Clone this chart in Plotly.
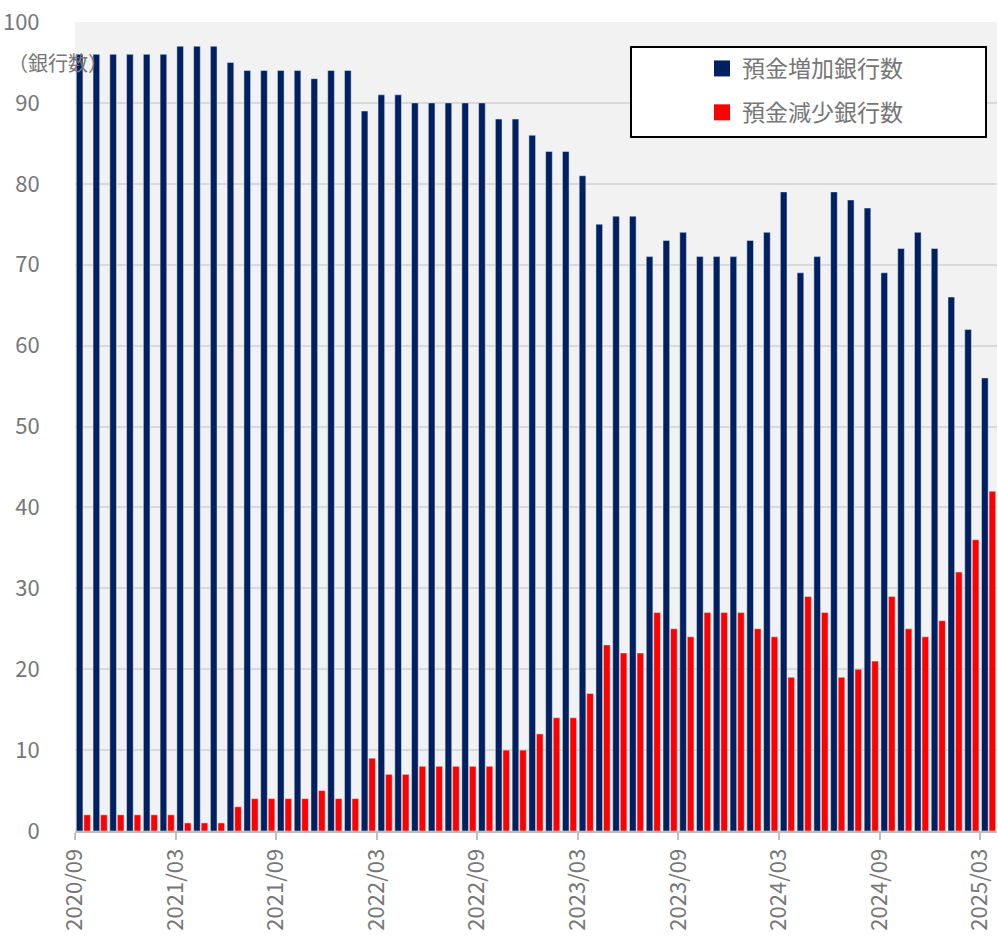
import pandas as pd
import plotly.graph_objects as go

months = [d.strftime("%Y/%m") for d in pd.date_range("2020-09-01", "2025-03-01", freq="MS")]

increase = [96, 96, 96, 96, 96, 96, 97, 97, 97, 95, 94, 94, 94, 94, 93, 94, 94, 89,
            91, 91, 90, 90, 90, 90, 90, 88, 88, 86, 84, 84, 81, 75, 76, 76, 71, 73,
            74, 71, 71, 71, 73, 74, 79, 69, 71, 79, 78, 77, 69, 72, 74, 72, 66, 62, 56]
decrease = [2, 2, 2, 2, 2, 2, 1, 1, 1, 3, 4, 4, 4, 4, 5, 4, 4, 9,
            7, 7, 8, 8, 8, 8, 8, 10, 10, 12, 14, 14, 17, 23, 22, 22, 27, 25,
            24, 27, 27, 27, 25, 24, 19, 29, 27, 19, 20, 21, 29, 25, 24, 26, 32, 36, 42]

series_names = ["預金増加銀行数", "預金減少銀行数"]
series_colors = ["#002060", "#FF0000"]

tick_idx = list(range(0, len(months), 6))
tick_vals = [i - 0.5 for i in tick_idx]
tick_text = [months[i] for i in tick_idx]

x = list(range(len(months)))
FONT = "Noto Sans CJK JP"
GRAY = "#767676"

fig = go.Figure()
for vals, name, col in zip([increase, decrease], series_names, series_colors):
    fig.add_trace(go.Bar(x=x, y=vals, name=name, marker_color=col, showlegend=False))
# legend-only entries (larger square swatches)
for i, (name, col) in enumerate(zip(series_names, series_colors)):
    fig.add_trace(go.Scatter(x=[None], y=[None], mode="markers", name=name,
                             marker=dict(symbol="square", size=16, color=col),
                             legendgroup=f"g{i}", showlegend=True))

W, H = 998, 940
ml, mr, mt, mb = 75, 1, 22, 109
pw = W - ml - mr
ph = H - mt - mb

def px_x(p):
    return (p - ml) / pw

def px_y(p):
    return (H - mb - p) / ph

fig.update_layout(
    width=W, height=H,
    margin=dict(l=ml, r=mr, t=mt, b=mb, pad=0),
    paper_bgcolor="white",
    plot_bgcolor="#f2f2f2",
    barmode="group",
    bargap=0.1,
    bargroupgap=0.12,
    font=dict(family=FONT, color=GRAY, size=21),
    showlegend=True,
    legend=dict(
        x=px_x(702), y=px_y(47), xanchor="left", yanchor="top",
        bgcolor="rgba(0,0,0,0)", borderwidth=0,
        font=dict(family=FONT, size=23, color=GRAY),
        traceorder="grouped", tracegroupgap=11,
        itemwidth=30,
    ),
    xaxis=dict(
        range=[-0.5, len(months) - 0.5],
        tickmode="array", tickvals=tick_vals, ticktext=tick_text,
        tickangle=-90,
        ticks="outside", ticklen=7, tickcolor="#bfbfbf", tickwidth=1.5,
        showline=True, linecolor="#bfbfbf", linewidth=2,
        showgrid=False, zeroline=False,
        tickfont=dict(family=FONT, size=22, color=GRAY),
        automargin=False,
    ),
    yaxis=dict(
        range=[0, 100], dtick=10, tick0=0,
        showgrid=True, gridcolor="#d9d9d9", gridwidth=1.5,
        zeroline=False, showline=False,
        ticks="outside", ticklen=30, tickcolor="rgba(0,0,0,0)",
        tickfont=dict(family=FONT, size=22, color=GRAY),
        automargin=False,
    ),
    shapes=[dict(
        type="rect", xref="paper", yref="paper",
        x0=px_x(631), x1=px_x(986), y0=px_y(137), y1=px_y(47),
        line=dict(color="black", width=2), fillcolor="white", layer="above",
    )],
    annotations=[dict(
        text="（銀行数）", xref="paper", yref="paper",
        x=px_x(6), y=px_y(62), xanchor="left", yanchor="middle",
        showarrow=False, font=dict(family=FONT, size=20, color=GRAY),
    )],
)

fig.write_html("out.html", config={"displayModeBar": False},
               post_script="document.body.style.margin='0';")
